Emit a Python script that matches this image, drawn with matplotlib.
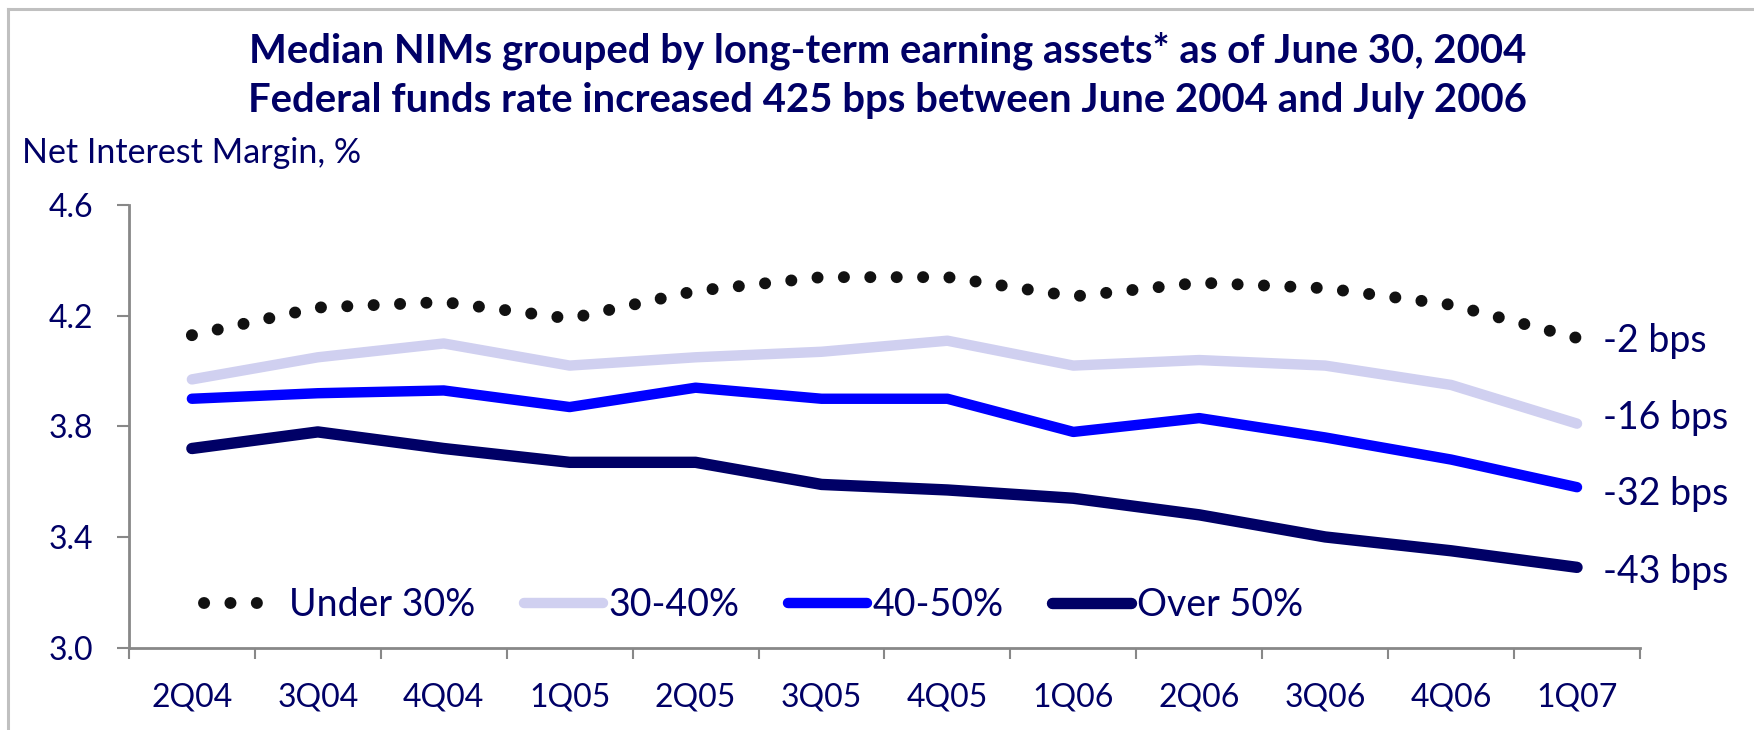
import numpy as np
import matplotlib
matplotlib.use("Agg")
import matplotlib.pyplot as plt
from matplotlib.lines import Line2D

plt.rcParams['font.family'] = ['Lato', 'DejaVu Sans']

# data
quarters = ["2Q04", "3Q04", "4Q04", "1Q05", "2Q05", "3Q05",
            "4Q05", "1Q06", "2Q06", "3Q06", "4Q06", "1Q07"]
under_30 = [4.13, 4.23, 4.25, 4.19, 4.29, 4.34, 4.34, 4.27, 4.32, 4.30, 4.24, 4.12]
pct_30_40 = [3.97, 4.05, 4.10, 4.02, 4.05, 4.07, 4.11, 4.02, 4.04, 4.02, 3.95, 3.81]
pct_40_50 = [3.90, 3.92, 3.93, 3.87, 3.94, 3.90, 3.90, 3.78, 3.83, 3.76, 3.68, 3.58]
over_50 = [3.72, 3.78, 3.72, 3.67, 3.67, 3.59, 3.57, 3.54, 3.48, 3.40, 3.35, 3.29]
changes = ["-2 bps", "-16 bps", "-32 bps", "-43 bps"]
label_pos = [4.11, 3.83, 3.555, 3.275]

navy = "#000066"
x = np.arange(len(quarters))

fig = plt.figure(figsize=(17.54, 7.30), dpi=100)
ax = fig.add_axes([0.0735, 0.113, 0.8615, 0.6058])

ax.plot(x, under_30, color="#111111", lw=8.6, linestyle=(0, (0.01, 2.2)),
        dash_capstyle="round", label="Under 30%")
ax.plot(x, pct_30_40, color="#D0D0F0", lw=7.5, solid_capstyle="round",
        solid_joinstyle="round", label="30-40%")
ax.plot(x, pct_40_50, color="#0000FF", lw=7.5, solid_capstyle="round",
        solid_joinstyle="round", label="40-50%")
ax.plot(x, over_50, color=navy, lw=8.2, solid_capstyle="round",
        solid_joinstyle="round", label="Over 50%")

# right side change labels
for txt, yy in zip(changes, label_pos):
    ax.annotate(txt, xy=(x[-1], yy), xytext=(19, 0), textcoords="offset points",
                va="center", ha="left", fontsize=27, color=navy,
                annotation_clip=False)

ax.set_xlim(-0.5, len(quarters) - 0.5)
ax.set_ylim(3.0, 4.6)
ax.set_yticks([3.0, 3.4, 3.8, 4.2, 4.6])
ax.set_yticklabels(["3.0", "3.4", "3.8", "4.2", "4.6"])
ax.set_xticks(np.arange(-0.5, len(quarters)), labels=[])
ax.set_xticks(x, labels=quarters, minor=True)

for s in ["top", "right"]:
    ax.spines[s].set_visible(False)
for s in ["left", "bottom"]:
    ax.spines[s].set_color("#888888")
    ax.spines[s].set_linewidth(2)

ax.tick_params(axis="y", which="major", length=8.6, width=1.5, color="#888888",
               labelsize=23, labelcolor=navy, pad=17)
ax.tick_params(axis="x", which="major", length=8, width=1.5, color="#888888")
ax.tick_params(axis="x", which="minor", length=0, labelsize=23,
               labelcolor=navy, pad=25)

leg = ax.legend(ncol=4, loc="center left", bbox_to_anchor=(0.05, 0.096),
                frameon=False, fontsize=27, handlelength=2.1, handletextpad=0.15,
                columnspacing=1.3, borderpad=0, borderaxespad=0)
for t in leg.get_texts():
    t.set_color(navy)

# titles
fig.text(0.506, 1 - 62 / 730, "Median NIMs grouped by long-term earning assets* as of June 30, 2004",
         ha="center", va="baseline", fontsize=28.8, fontweight="bold", color=navy)
fig.text(0.506, 1 - 112 / 730, "Federal funds rate increased 425 bps between June 2004 and July 2006",
         ha="center", va="baseline", fontsize=28.8, fontweight="bold", color=navy)
fig.text(0.0125, 1 - 163 / 730, "Net Interest Margin, %", ha="left", va="baseline",
         fontsize=24.5, color=navy)

# light frame on top and left
fig.add_artist(Line2D([8 / 1754, 1], [1 - 9 / 730, 1 - 9 / 730],
                      transform=fig.transFigure, color="#C0C0C0", lw=2.2))
fig.add_artist(Line2D([8 / 1754, 8 / 1754], [0, 1 - 9 / 730],
                      transform=fig.transFigure, color="#C0C0C0", lw=2.2))

fig.savefig("out.png", dpi=100)
